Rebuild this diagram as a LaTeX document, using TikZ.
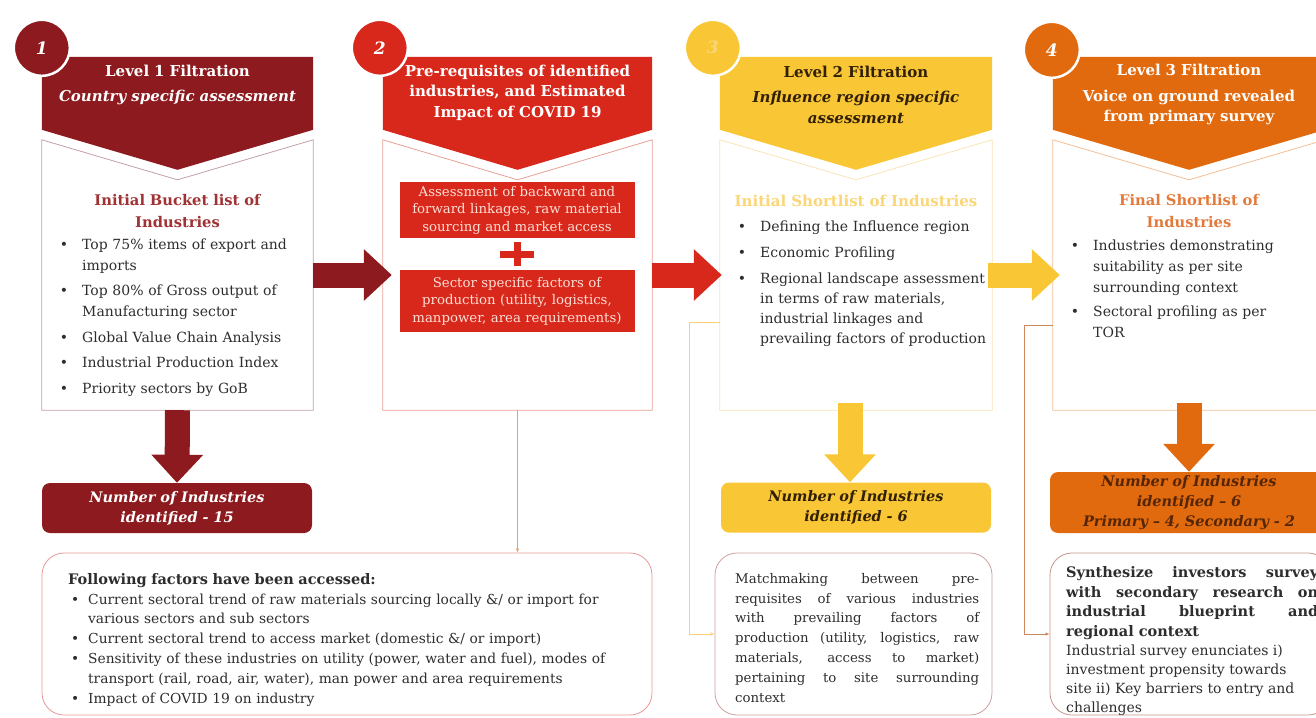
\documentclass[tikz,border=0pt]{standalone}
\usepackage{fontspec}
\setmainfont{DejaVu Serif}
\usepackage{enumitem}
\usetikzlibrary{positioning,calc,arrows.meta}
\definecolor{levelOne}{RGB}{140,26,30}
\definecolor{levelTwo}{RGB}{216,40,28}
\definecolor{levelThree}{RGB}{249,198,54}
\definecolor{levelFour}{RGB}{226,106,14}
\definecolor{edgeOne}{RGB}{195,160,165}
\definecolor{edgeTwo}{RGB}{232,160,150}
\definecolor{edgeThree}{RGB}{250,228,180}
\definecolor{edgeFour}{RGB}{242,190,150}
\definecolor{titleOne}{RGB}{160,50,52}
\definecolor{titleThree}{RGB}{250,214,120}
\definecolor{titleFour}{RGB}{226,122,60}
\definecolor{bodyText}{RGB}{45,45,45}
\definecolor{darkText}{RGB}{50,32,5}
\definecolor{brownText}{RGB}{85,38,6}
\definecolor{cardText}{RGB}{255,222,212}
\definecolor{noteOne}{RGB}{232,150,150}
\definecolor{noteThree}{RGB}{205,160,160}
\definecolor{noteFour}{RGB}{195,150,140}
\definecolor{linkTwo}{RGB}{240,155,115}
\definecolor{linkThree}{RGB}{250,210,110}
\definecolor{linkFour}{RGB}{205,135,95}
\newcommand{\levelHeader}[2]{%%
  %% The pentagon that heads a level.
  \fill[#2] ($(#1.north west)+(0,-83)$) -- ($(#1.north east)+(0,-83)$)
    -- ($(#1.north east)+(0,-10)$) -- ($(#1.north)+(0,30)$)
    -- ($(#1.north west)+(0,-10)$) -- cycle;
}
\newcommand{\levelOutline}[2]{%%
  %% The outline of a level body, notched under its header.
  \draw[#2,line width=0.8pt] (#1.north west) -- ($(#1.north)+(0,40)$)
    -- (#1.north east) -- (#1.south east) -- (#1.south west) -- cycle;
}
\newcommand{\bulletList}[2]{%%
  \begin{itemize}[label=\textbullet,leftmargin=22pt,labelsep=14pt,
    itemsep=#1,topsep=0pt,parsep=0pt,partopsep=0pt]#2\end{itemize}%%
}

\begin{document}
\begin{tikzpicture}[x=1pt,y=-1pt,%%
  bodyStyle/.style={rectangle,inner sep=0pt,minimum height=270pt},%%
  headStyle/.style={text width=#1,align=center,inner sep=0pt,text=white,%%
    font=\fontsize{15}{20.5}\selectfont\bfseries},%%
  headStyle/.default=266pt,%%
  badgeStyle/.style={circle,draw=white,line width=2.5pt,minimum size=56pt,%%
    inner sep=0pt,text=white,font=\fontsize{17}{17}\selectfont\bfseries\itshape},%%
  titleStyle/.style={text width=262pt,align=center,inner sep=0pt,%%
    font=\fontsize{14.7}{22}\selectfont\bfseries},%%
  listStyle/.style={text width=#1,align=left,inner sep=0pt,anchor=north west,%%
    text=bodyText,font=\fontsize{14}{21}\selectfont},%%
  cardStyle/.style={fill=levelTwo,minimum width=235pt,minimum height=56pt,%%
    text width=233pt,align=center,inner sep=0pt,text=cardText,%%
    font=\fontsize{13.3}{17.5}\selectfont},%%
  countStyle/.style={rounded corners=8pt,minimum height=50pt,inner sep=0pt,%%
    text width=270pt,align=center,font=\fontsize{14.5}{20}\selectfont\bfseries\itshape},%%
  noteStyle/.style={draw=#1,line width=0.8pt,rounded corners=22pt,%%
    minimum height=162pt,inner sep=0pt},%%
  blockArrow/.style={draw=#1,line width=25pt,%%
    -{Triangle[length=28pt 0 0,width=50pt 0 0]}},%%
  linkStyle/.style={draw=#1,line width=0.7pt,-{Latex[length=4pt 0 0,width=3.5pt 0 0]}}%%
]
\useasboundingbox (0,0) rectangle (1316,717);
\clip (0,0) rectangle (1316,717);
%%
%% The four level bodies.
\node[bodyStyle,minimum width=271pt] (bodyOne) at (177.5,275) {};
\node[bodyStyle,minimum width=269pt] (bodyTwo) at (517.5,275) {};
\node[bodyStyle,minimum width=272pt] (bodyThree) at (856,275) {};
\node[bodyStyle,minimum width=272pt] (bodyFour) at (1189,275) {};
\levelOutline{bodyOne}{edgeOne}
\levelOutline{bodyTwo}{edgeTwo}
\levelOutline{bodyThree}{edgeThree}
\levelOutline{bodyFour}{edgeFour}
%%
%% Headers and their numbered badges.
\levelHeader{bodyOne}{levelOne}
\levelHeader{bodyTwo}{levelTwo}
\levelHeader{bodyThree}{levelThree}
\levelHeader{bodyFour}{levelFour}
\node[badgeStyle,fill=levelOne] (badgeOne) at ($(bodyOne.north west)+(0,-92)$) {1};
\node[badgeStyle,fill=levelTwo] (badgeTwo) at ($(bodyTwo.north west)+(-3,-92)$) {2};
\node[badgeStyle,fill=levelThree,text=titleThree] (badgeThree) at ($(bodyThree.north west)+(-7,-92)$) {3};
\node[badgeStyle,fill=levelFour] (badgeFour) at ($(bodyFour.north west)+(-1,-90)$) {4};
\node[headStyle] (headOne) at ($(bodyOne.north)+(0,-55)$)
  {Level 1 Filtration\\[5pt] \itshape Country specific assessment};
\node[headStyle] (headTwo) at ($(bodyTwo.north)+(0,-47)$)
  {Pre-requisites of identified\\ industries, and Estimated\\ Impact of COVID 19};
\node[headStyle,text=darkText] (headThree) at ($(bodyThree.north)+(0,-45)$)
  {Level 2 Filtration\\[5pt] \itshape Influence region specific\\ assessment};
\node[headStyle] (headFour) at ($(bodyFour.north)+(0,-45)$)
  {Level 3 Filtration\\[5pt] Voice on ground revealed\\ from primary survey};
%%
%% Level 1: initial bucket list.
\node[titleStyle,text=titleOne] (titleOne) at ($(bodyOne.north)+(0,71)$)
  {Initial Bucket list of\\ Industries};
\node[listStyle=240pt] (listOne) at (60,228) {\bulletList{4.5pt}{%%
  \item Top 75\% items of export and\\ imports
  \item Top 80\% of Gross output of\\ Manufacturing sector
  \item Global Value Chain Analysis
  \item Industrial Production Index
  \item Priority sectors by GoB}};
%%
%% Level 2: the two assessment cards.
\node[cardStyle] (linkCard) at (517,210)
  {Assessment of backward and\\ forward linkages, raw material\\ sourcing and market access};
\node[cardStyle,minimum height=62pt] (factorCard) at (517,301)
  {Sector specific factors of\\ production (utility, logistics,\\ manpower, area requirements)};
\coordinate (plusMid) at ($(linkCard.south)!0.5!(factorCard.north)$);
\draw[levelTwo,line width=7pt] ($(plusMid)+(-17,0)$) -- ($(plusMid)+(17,0)$);
\draw[levelTwo,line width=7pt] ($(plusMid)+(0,-12)$) -- ($(plusMid)+(0,12)$);
%%
%% Level 3: initial shortlist.
\node[titleStyle,text=titleThree,font=\fontsize{15}{22}\selectfont\bfseries] (titleThree) at ($(bodyThree.north)+(0,61)$)
  {Initial Shortlist of Industries};
\node[listStyle=252pt,font=\fontsize{14}{20}\selectfont] (listThree) at (738,211) {\bulletList{6pt}{%%
  \item Defining the Influence region
  \item Economic Profiling
  \item Regional landscape assessment\\ in terms of raw materials,\\ industrial linkages and\\ prevailing factors of production}};
%%
%% Level 4: final shortlist.
\node[titleStyle,text=titleFour] (titleFour) at ($(bodyFour.north)+(0,71)$)
  {Final Shortlist of\\ Industries};
\node[listStyle=230pt] (listFour) at (1071,229) {\bulletList{3pt}{%%
  \item Industries demonstrating\\ suitability as per site\\ surrounding context
  \item Sectoral profiling as per\\ TOR}};
%%
%% Counts of identified industries.
\node[countStyle,fill=levelOne,text=white,minimum width=270pt] (countOne) at (177,508)
  {Number of Industries\\ identified - 15};
\node[countStyle,fill=levelThree,text=darkText,minimum width=270pt] (countThree) at (856,507.5)
  {Number of Industries\\ identified - 6};
\node[countStyle,fill=levelFour,text=brownText,minimum width=278pt,minimum height=61pt] (countFour) at (1189,502.5)
  {Number of Industries\\ identified -- 6\\ Primary -- 4, Secondary - 2};
%%
%% Block arrows between the levels.
\draw[blockArrow=levelOne] (bodyOne.east) -- ($(bodyTwo.west)+(9,0)$);
\draw[blockArrow=levelTwo] (bodyTwo.east) -- ($(bodyThree.west)+(2,0)$);
\draw[blockArrow=levelThree] ($(bodyThree.east)+(-4,0)$) -- ($(bodyFour.west)+(7,0)$);
\draw[blockArrow=levelOne] (bodyOne.south) -- (countOne.north);
\draw[blockArrow=levelThree] ($(bodyThree.south)+(-6,-7)$) -- ($(countThree.north)+(-6,0)$);
\draw[blockArrow=levelFour] ($(bodyFour.south)+(0,-7)$) -- (countFour.north);
%%
%% Notes at the bottom.
\node[noteStyle=noteOne,minimum width=610pt] (factorsNote) at (347,634) {};
\node[noteStyle=noteThree,minimum width=277pt] (matchNote) at (853.5,634) {};
\node[noteStyle=noteFour,minimum width=280pt] (surveyNote) at (1190,634) {};
\node[listStyle=578pt,font=\fontsize{13.8}{19.8}\selectfont] (factorsText) at (68,573)
  {{\fontsize{14.5}{19.8}\selectfont\bfseries Following factors have been accessed:\par}
  \begin{itemize}[label=\textbullet,leftmargin=20pt,labelsep=9pt,itemsep=0pt,
    topsep=0pt,parsep=0pt,partopsep=0pt]
  \item Current sectoral trend of raw materials sourcing locally \&/ or import for\\ various sectors and sub sectors
  \item Current sectoral trend to access market (domestic \&/ or import)
  \item Sensitivity of these industries on utility (power, water and fuel), modes of\\ transport (rail, road, air, water), man power and area requirements
  \item Impact of COVID 19 on industry
  \end{itemize}};
\node[listStyle=244pt,align=justify,font=\fontsize{13.3}{19.8}\selectfont] (matchText) at (735,573)
  {\tolerance=10000 Matchmaking between pre-\linebreak requisites of various industries\linebreak
  with prevailing factors of\linebreak production (utility, logistics, raw\linebreak
  materials, access to market)\linebreak pertaining to site surrounding\linebreak context};
\node[listStyle=252pt,align=justify,font=\fontsize{14}{19}\selectfont] (surveyText) at (1066,566)
  {\tolerance=10000 {\fontsize{14.5}{19.8}\selectfont\bfseries Synthesize investors survey\linebreak
  with secondary research on\linebreak industrial blueprint and\linebreak
  regional context\par}
  \raggedright Industrial survey enunciates i)\\ investment propensity towards\\
  site ii) Key barriers to entry and\\ challenges};
%%
%% Thin links into the notes.
\draw[linkStyle=linkTwo] (bodyTwo.south) -- (bodyTwo.south |- factorsNote.north);
\draw[linkStyle=linkThree] (bodyThree.west |- 0,322) -- ++(-30,0) |- (matchNote.west);
\draw[linkStyle=linkFour] (bodyFour.west |- 0,325) -- ++(-28,0) |- (surveyNote.west);
\end{tikzpicture}
\end{document}
